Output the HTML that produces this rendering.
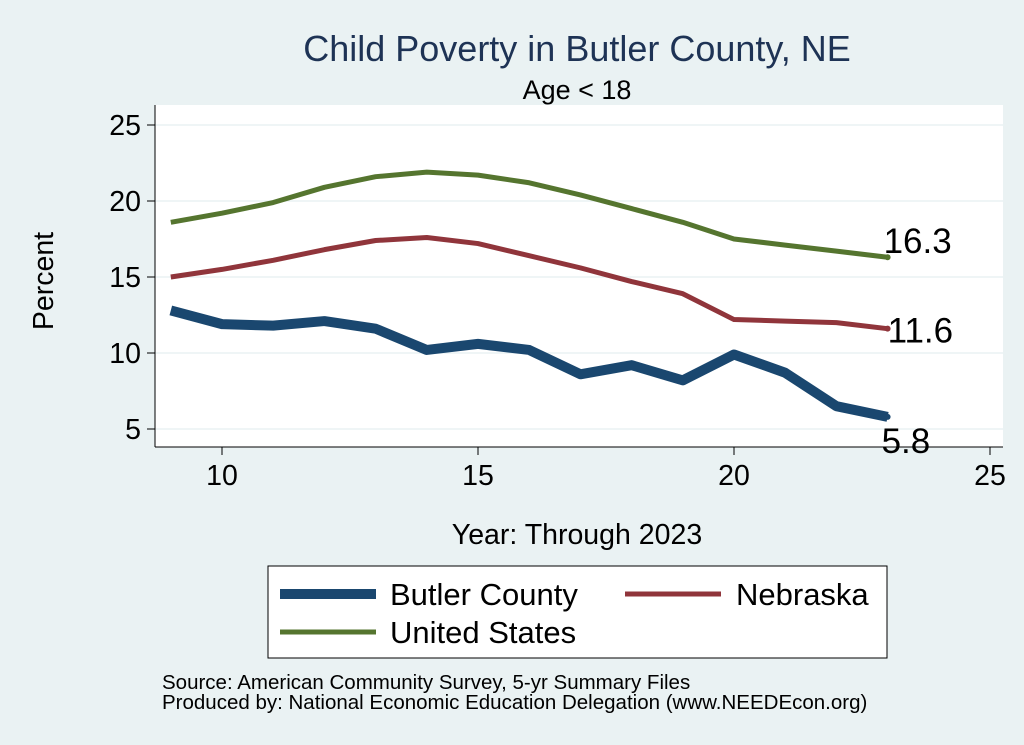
<!DOCTYPE html>
<html><head><meta charset="utf-8"><style>
body{margin:0;background:#eaf2f3;}
svg{display:block;font-family:"Liberation Sans",Arial,sans-serif;}
</style></head><body>
<svg width="1024" height="745">
<rect x="0" y="0" width="1024" height="745" fill="#eaf2f3"/>
<rect x="155" y="105" width="848" height="342" fill="#fff"/>
<text x="577" y="61" font-size="36" fill="#1e3355" text-anchor="middle">Child Poverty in Butler County, NE</text>
<text x="577" y="99" font-size="27" fill="#000" text-anchor="middle">Age &lt; 18</text>
<g id="grid"></g><g id="axes"></g><g id="series"></g>
<text x="53" y="281" font-size="28.5" text-anchor="middle" transform="rotate(-90 53 281)">Percent</text>
<text x="577" y="544" font-size="28.5" text-anchor="middle">Year: Through 2023</text>
<g>
<rect x="268" y="566" width="619" height="92" fill="#fff" stroke="#000" stroke-width="1"/>
<line x1="280" y1="594" x2="376" y2="594" stroke="#1a476f" stroke-width="10"/>
<text x="390" y="605" font-size="31">Butler County</text>
<line x1="625" y1="594" x2="721" y2="594" stroke="#90353b" stroke-width="5"/>
<text x="736" y="605" font-size="31">Nebraska</text>
<line x1="280" y1="632" x2="376" y2="632" stroke="#55752f" stroke-width="5"/>
<text x="390" y="643" font-size="31">United States</text>
</g>
<text x="162" y="689" font-size="20.5">Source: American Community Survey, 5-yr Summary Files</text>
<text x="162" y="709" font-size="20.5">Produced by: National Economic Education Delegation (www.NEEDEcon.org)</text>
</svg>
<script>
const years=[9,10,11,12,13,14,15,16,17,18,19,20,21,22,23];
const butler=[12.8,11.9,11.8,12.1,11.6,10.2,10.6,10.2,8.6,9.2,8.2,9.9,8.7,6.5,5.8];
const nebraska=[15.0,15.5,16.1,16.8,17.4,17.6,17.2,16.4,15.6,14.7,13.9,12.2,12.1,12.0,11.6];
const us=[18.6,19.2,19.9,20.9,21.6,21.9,21.7,21.2,20.4,19.5,18.6,17.5,17.1,16.7,16.3];
const xTicks=[10,15,20,25];
const yTicks=[5,10,15,20,25];
const NS="http://www.w3.org/2000/svg";
const xs=v=>222+(v-10)*51.2;
const ys=v=>429-(v-5)*15.2;
function mk(tag,attrs,parent,txt){const e=document.createElementNS(NS,tag);for(const k in attrs)e.setAttribute(k,attrs[k]);if(txt!=null)e.textContent=txt;parent.appendChild(e);return e;}
const grid=document.getElementById('grid'),axes=document.getElementById('axes'),ser=document.getElementById('series');
mk('line',{x1:155,y1:105,x2:155,y2:447,stroke:'#000'},axes);
mk('line',{x1:155,y1:447,x2:1003,y2:447,stroke:'#000'},axes);
yTicks.forEach(t=>{
 const g=mk('line',{x1:155,x2:1003,y1:ys(t),y2:ys(t),stroke:'#eaf2f3','stroke-width':1.5},grid);
 
 
 mk('line',{x1:147,x2:155,y1:ys(t),y2:ys(t),stroke:'#000'},axes);
 const l=mk('text',{x:141,y:ys(t)+10,'font-size':28.5,'text-anchor':'end'},axes,t);
 
 
});
xTicks.forEach(t=>{
 mk('line',{x1:xs(t),x2:xs(t),y1:447,y2:455,stroke:'#000'},axes);
 const l=mk('text',{x:xs(t),y:485,'font-size':28.5,'text-anchor':'middle'},axes,t);
 
 
});
function line(vals,color,w,name,lx,ly){
 const p=mk('polyline',{points:years.map((y,i)=>xs(y)+','+ys(vals[i])).join(' '),fill:'none',stroke:color,'stroke-width':w,'stroke-linejoin':'round'},ser);
 
 
 const n=vals.length-1;
 mk('circle',{cx:xs(years[n]),cy:ys(vals[n]),r:3,fill:color},ser);
 const t=mk('text',{x:xs(years[n])+lx,y:ys(vals[n])+ly,'font-size':35},ser,vals[n].toFixed(1));
 
 
}
line(us,'#55752f',5,'us',-4,-4);
line(nebraska,'#90353b',5,'nebraska',0,14);
line(butler,'#1a476f',10,'butler',-6,36);
</script>
</body></html>
